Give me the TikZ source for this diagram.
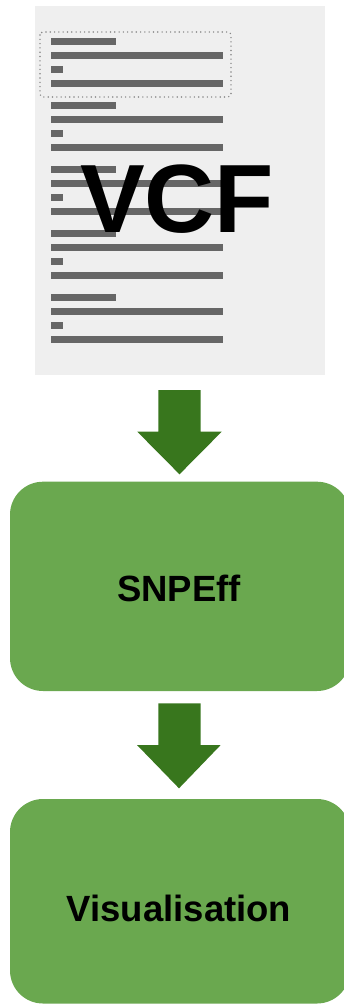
\documentclass[tikz,border=0pt]{standalone}
\usepackage{fontspec}
\setmainfont{Liberation Sans}
\definecolor{docbg}{HTML}{EFEFEF}
\definecolor{bargray}{HTML}{666666}
\definecolor{dotgray}{HTML}{888888}
\definecolor{boxgreen}{HTML}{6AA84F}
\definecolor{arrowgreen}{HTML}{38761D}
\tikzset{
  bar/.style={fill=bargray, draw=none},
  stepbox/.style={fill=boxgreen, draw=none, rounded corners=33pt},
  blockarrow/.style={fill=arrowgreen, draw=none},
  boxlabel/.style={font=\bfseries\fontsize{36.5}{40}\selectfont, text=black}
}
\begin{document}
\begin{tikzpicture}[x=1pt,y=-1pt]
\useasboundingbox (0,0) rectangle (344,1005);
\clip (0,0) rectangle (344,1005);
% document
\fill[docbg] (35,6) rectangle (325,375);
\draw[dotgray, line width=1.6pt, dash pattern=on 0pt off 4.3pt, line cap=round, rounded corners=3pt] (40,32) rectangle (231,97);
\foreach \g in {0,1,2,3,4}{
  \pgfmathsetmacro{\yy}{41+64*\g}
  \fill[bar] (50.7,\yy-3.5) rectangle (116,\yy+3.5);
  \fill[bar] (50.7,\yy+14.3-3.5) rectangle (223,\yy+14.3+3.5);
  \fill[bar] (50.7,\yy+28-3.5) rectangle (63.3,\yy+28+3.5);
  \fill[bar] (50.7,\yy+42.3-3.5) rectangle (223,\yy+42.3+3.5);
}
\node[font=\bfseries\fontsize{97}{97}\selectfont, text=black, inner sep=0pt] (vcf) at (177,199) {VCF};
% boxes
\fill[stepbox] (10,481.7) rectangle (350,691);
\node[boxlabel] (snpeff) at (179,588) {SNPEff};
\fill[stepbox] (10,799) rectangle (350,1003.5);
\node[boxlabel] (vis) at (179,908) {Visualisation};
% arrows
\fill[blockarrow] (158.3,390) -- (200.7,390) -- (200.7,431.7) -- (221.7,431.7) -- (179.5,474.3) -- (137.3,431.7) -- (158.3,431.7) -- cycle;
\fill[blockarrow] (158.3,703.3) -- (200.7,703.3) -- (200.7,745) -- (220.7,745) -- (179,788.3) -- (137,745) -- (158.3,745) -- cycle;
\end{tikzpicture}
\end{document}
